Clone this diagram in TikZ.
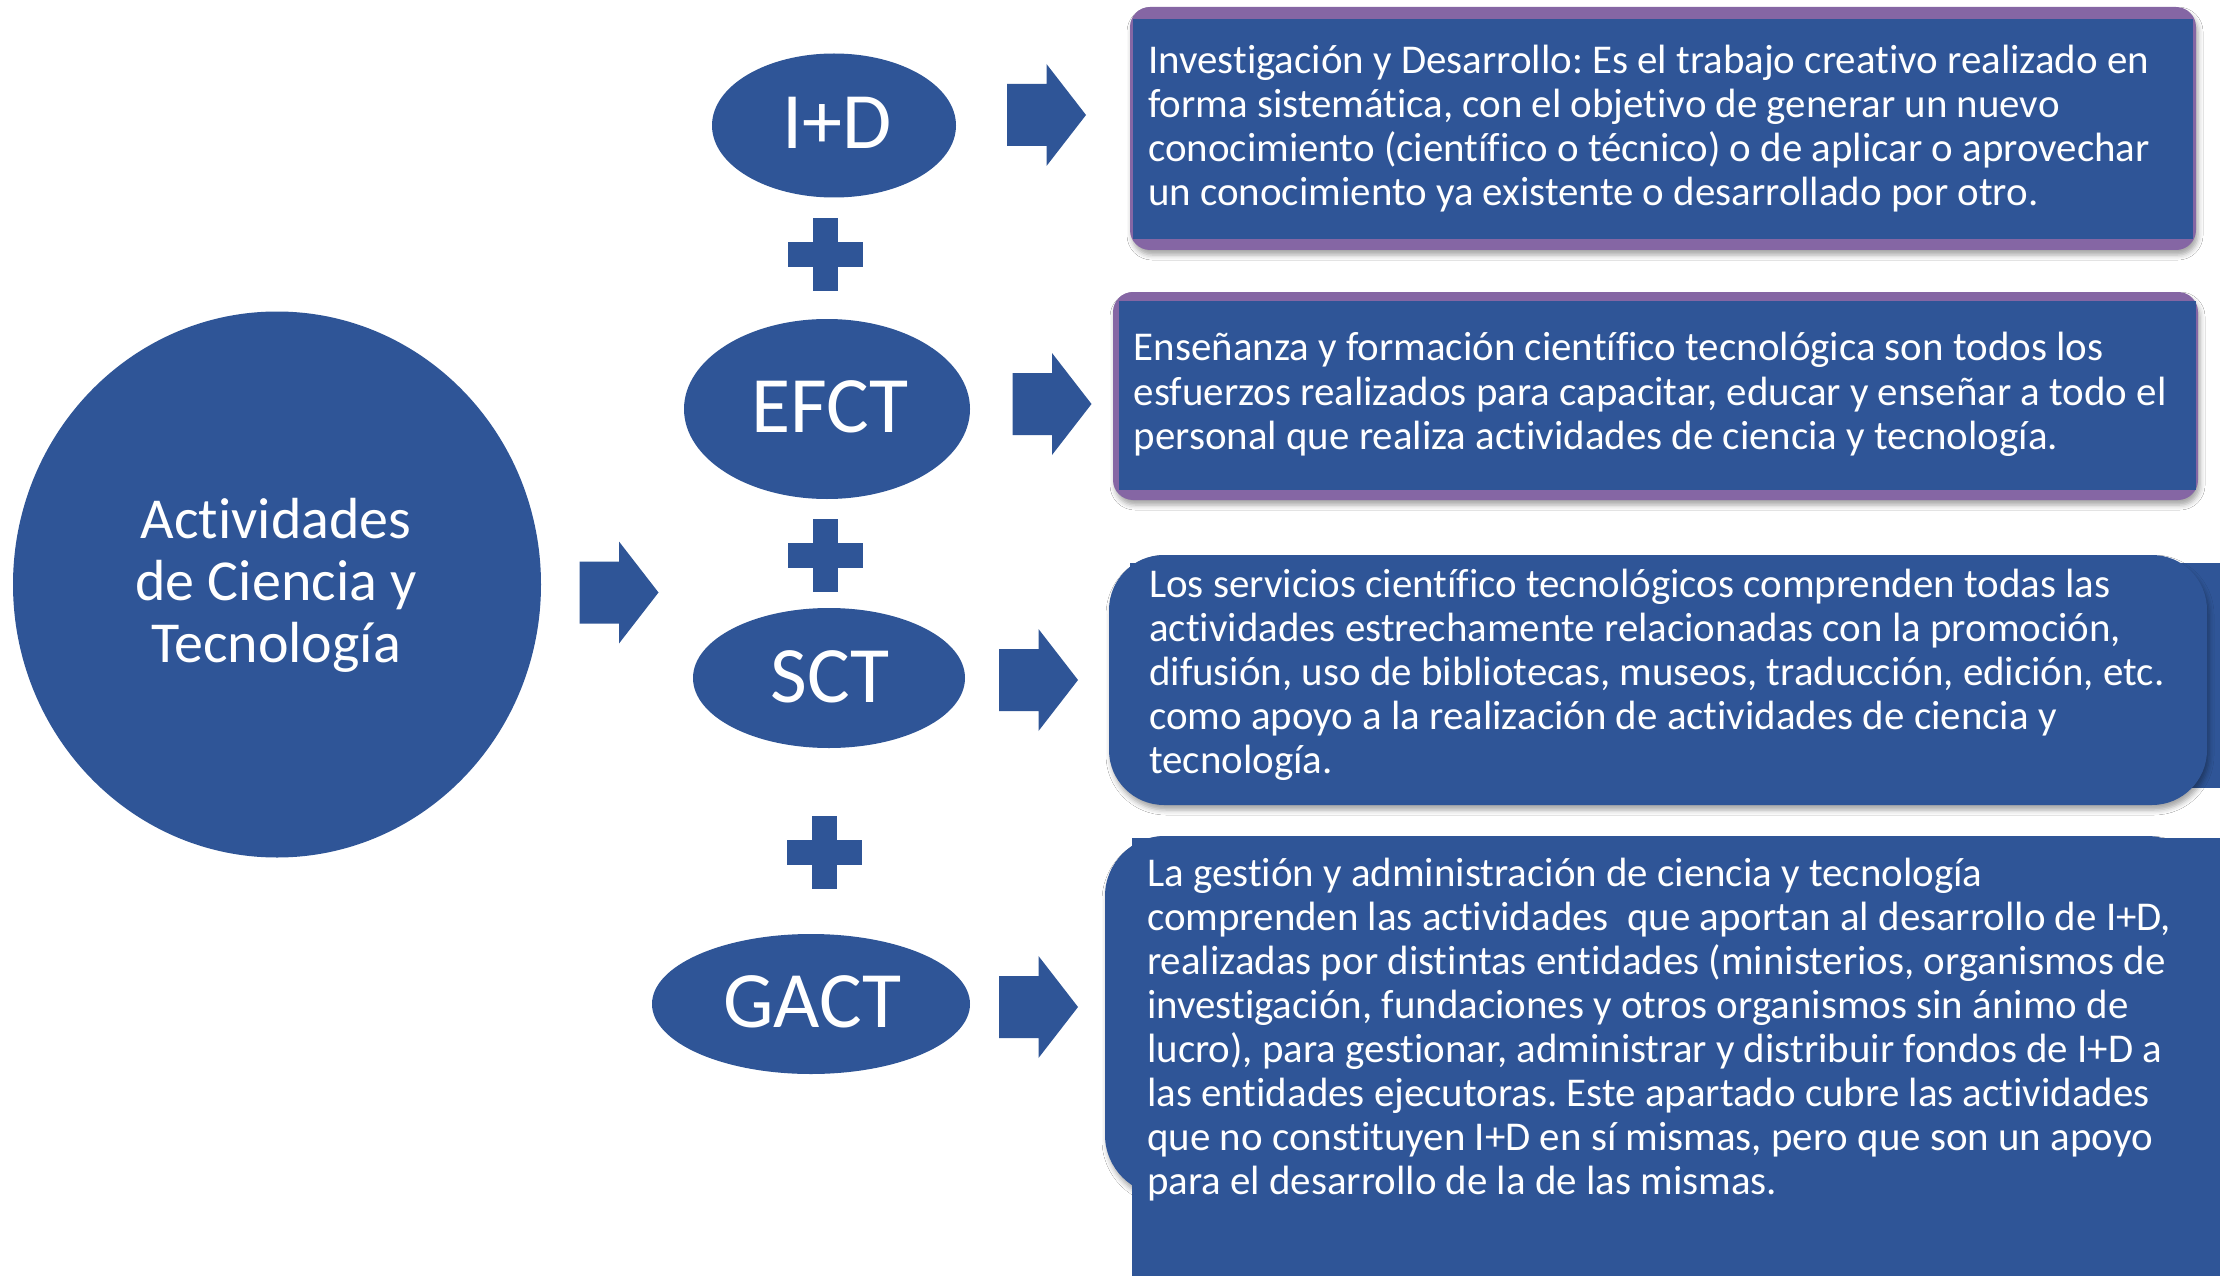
\documentclass[tikz,border=0pt]{standalone}
\usepackage{fontspec}
\setmainfont{Carlito}[RawFeature={-liga;-calt;-dlig;-clig}]
\usetikzlibrary{shapes.geometric,shadows.blur}
\definecolor{azul}{HTML}{2F5597}
\definecolor{morado}{HTML}{8566A4}
\frenchspacing
\begin{document}
\begin{tikzpicture}[x=1pt,y=-1pt,
  oval/.style={ellipse, fill=azul, draw=none, inner sep=0pt},
  boxr/.style={rectangle, fill=azul, draw=none, inner sep=0pt},
  lbl/.style={text=white, font=\fontsize{80}{80}\selectfont, inner sep=0pt, anchor=base},
  clbl/.style={text=white, font=\fontsize{58}{62}\selectfont, inner sep=0pt, anchor=base},
  txt/.style={text=white, font=\fontsize{40.9}{44}\selectfont\frenchspacing, inner sep=0pt, anchor=base west},
  shad/.style={blur shadow={shadow xshift=2pt, shadow yshift=-5pt, shadow blur radius=5pt, shadow opacity=35}},
  barrow/.pic={\fill[azul] (0,-31) -- (39.5,-31) -- (39.5,-51) -- (79,0) -- (39.5,51) -- (39.5,31) -- (0,31) -- cycle;},
  plus/.pic={\fill[azul] (-12.5,-36.5) rectangle (12.5,36.5); \fill[azul] (-37.5,-12.5) rectangle (37.5,12.5);}
]
\useasboundingbox (0,0) rectangle (2220,1276);
\fill[white] (0,0) rectangle (2220,1276);

% central circle
\node[oval, minimum width=528pt, minimum height=546pt] (act) at (277,584.5) {};
\node[clbl] (actA) at (276,538.7) {Actividades};
\node[clbl] (actB) at (276,600.7) {de Ciencia y};
\node[clbl] (actC) at (276,662.7) {Tecnología};
\pic (arr0) at (579.5,592.5) {barrow};

% ellipses
\node[oval, minimum width=244pt, minimum height=144pt] (id) at (834,125.5) {};
\node[lbl] (idl) at (837,148.5) {I+D};
\node[oval, minimum width=286pt, minimum height=180pt] (efct) at (827,409) {};
\node[lbl] (efctl) at (830,432.5) {EFCT};
\node[oval, minimum width=272pt, minimum height=140pt] (sct) at (829,678) {};
\node[lbl] (sctl) at (830,702) {SCT};
\node[oval, minimum width=318pt, minimum height=140pt] (gact) at (811,1004) {};
\node[lbl] (gactl) at (812.5,1027) {GACT};

\pic (p1) at (825,254.5) {plus};
\pic (p2) at (825,555.5) {plus};
\pic (p3) at (824,852) {plus};

\pic (arr1) at (1007,115) {barrow};
\pic (arr2) at (1012.5,404) {barrow};
\pic (arr3) at (999,680) {barrow};
\pic (arr4) at (999,1007) {barrow};

% box 1
\node[boxr, fill=morado, rounded corners=20pt, minimum width=1066pt, minimum height=243pt, shad] (b1o) at (1663,128.5) {};
\node[boxr, minimum width=1060pt, minimum height=220pt] (b1) at (1663,129) {};
\foreach \t [count=\i] in {
  {Investigación y Desarrollo: Es el trabajo creativo realizado en},
  {forma sistemática, con el objetivo de generar un nuevo},
  {conocimiento (científico o técnico) o de aplicar o aprovechar},
  {un conocimiento ya existente o desarrollado por otro.}}
  \node[txt] (b1t\i) at (1148,{73.6+44*(\i-1)}) {\t};

% box 2
\node[boxr, fill=morado, rounded corners=20pt, minimum width=1085pt, minimum height=208pt, shad] (b2o) at (1655.5,396) {};
\node[boxr, minimum width=1077pt, minimum height=189pt] (b2) at (1657.5,395.5) {};
\foreach \t [count=\i] in {
  {Enseñanza y formación científico tecnológica son todos los},
  {esfuerzos realizados para capacitar, educar y enseñar a todo el},
  {personal que realiza actividades de ciencia y tecnología.}}
  \node[txt] (b2t\i) at (1133.6,{360.9+44.5*(\i-1)}) {\t};

% box 3
\node[boxr, minimum width=1100pt, minimum height=225pt] (b3r) at (1680,675.5) {};
\node[boxr, rounded corners=55pt, minimum width=1098pt, minimum height=250pt, shad] (b3) at (1658,680) {};
\foreach \t [count=\i] in {
  {Los servicios científico tecnológicos comprenden todas las},
  {actividades estrechamente relacionadas con la promoción,},
  {difusión, uso de bibliotecas, museos, traducción, edición, etc.},
  {como apoyo a la realización de actividades de ciencia y},
  {tecnología.}}
  \node[txt] (b3t\i) at (1149,{597+44*(\i-1)}) {\t};

% box 4
\node[boxr, rounded corners=60pt, minimum width=1102pt, minimum height=359pt, shad] (b4) at (1656,1015.5) {};
\node[boxr, minimum width=1098pt, minimum height=452pt] (b4r) at (1681,1064) {};
\foreach \t [count=\i] in {
  {La gestión y administración de ciencia y tecnología},
  {comprenden las actividades\ \ que aportan al desarrollo de I+D,},
  {realizadas por distintas entidades (ministerios, organismos de},
  {investigación, fundaciones y otros organismos sin ánimo de},
  {lucro), para gestionar, administrar y distribuir fondos de I+D a},
  {las entidades ejecutoras. Este apartado cubre las actividades},
  {que no constituyen I+D en sí mismas, pero que son un apoyo},
  {para el desarrollo de la de las mismas.}}
  \node[txt] (b4t\i) at (1147,{886.4+44*(\i-1)}) {\t};
\end{tikzpicture}
\end{document}
